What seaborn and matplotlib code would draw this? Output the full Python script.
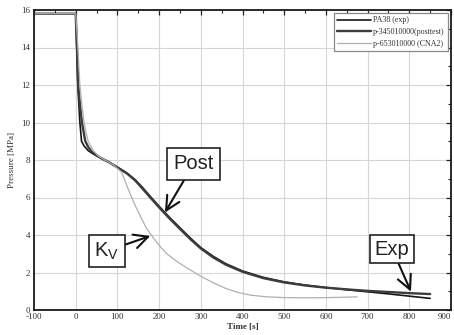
import matplotlib
matplotlib.use("Agg")
import matplotlib.pyplot as plt
from matplotlib.ticker import MultipleLocator
import numpy as np
import pandas as pd
import seaborn as sns

# Measured pressure (PA38 experiment)
exp_t = [-100, 0, 2, 5, 8, 10, 14, 20, 30, 40, 52, 65, 80, 100, 123, 143, 160, 180,
         203, 225, 252, 275, 300, 330, 360, 400, 450, 500, 550, 600, 650, 700, 750, 800, 850]
exp_p = [15.8, 15.8, 14.4, 12.0, 10.8, 10.0, 9.0, 8.75, 8.5, 8.35, 8.2, 8.05, 7.88, 7.62, 7.3,
         6.94, 6.54, 6.03, 5.46, 4.94, 4.34, 3.84, 3.33, 2.86, 2.47, 2.08, 1.74, 1.5, 1.33, 1.2,
         1.08, 0.97, 0.86, 0.74, 0.62]

# Post-test calculation (p-345010000)
post_t = [-100, 0, 3, 6, 10, 15, 23, 30, 38, 52, 65, 80, 100, 123, 143, 160, 180,
          203, 225, 252, 275, 300, 330, 360, 400, 450, 500, 550, 600, 650, 700, 750, 800, 850]
post_p = [15.8, 15.8, 14.0, 12.0, 11.0, 10.0, 9.0, 8.7, 8.45, 8.22, 8.05, 7.88, 7.6, 7.28,
          6.9, 6.48, 5.97, 5.4, 4.88, 4.28, 3.78, 3.28, 2.8, 2.42, 2.04, 1.7, 1.47, 1.31,
          1.19, 1.1, 1.02, 0.96, 0.9, 0.85]

# CNA2 calculation (p-653010000), with modified valve coefficient
cna_t = [-100, 0, 4, 10, 15, 20, 25, 30, 42, 55, 70, 90, 110, 125, 140, 155, 170, 187,
         205, 220, 245, 270, 300, 330, 360, 390, 420, 460, 500, 550, 600, 640, 675]
cna_p = [15.8, 15.8, 14.5, 12.0, 10.9, 10.0, 9.45, 9.0, 8.5, 8.2, 8.0, 7.75, 7.35, 6.5,
         5.7, 5.0, 4.35, 3.82, 3.32, 2.97, 2.55, 2.2, 1.8, 1.45, 1.15, 0.93, 0.79, 0.7, 0.66,
         0.65, 0.66, 0.68, 0.7]

series_names = ["PA38 (exp)", "p-345010000(posttest)", "p-653010000 (CNA2)"]
series_colors = ["#151515", "#3c3c3c", "#b0b0b0"]
series_widths = [1.2, 1.7, 0.9]

x_ticks = [-100, 0, 100, 200, 300, 400, 500, 600, 700, 800, 900]
y_ticks = [0, 2, 4, 6, 8, 10, 12, 14, 16]

frames = []
for name, t, p in zip(series_names, [exp_t, post_t, cna_t], [exp_p, post_p, cna_p]):
    frames.append(pd.DataFrame({"Time": t, "Pressure": p, "Series": name}))
df = pd.concat(frames, ignore_index=True)

sns.set_theme(style="whitegrid")
plt.rcParams["font.family"] = ["Liberation Serif", "DejaVu Serif"]
plt.rcParams["mathtext.default"] = "regular"
plt.rcParams["axes.unicode_minus"] = False

fig = plt.figure(figsize=(4.54, 3.35), dpi=100)
ax = fig.add_axes([34 / 454, 1 - 310 / 335, (451 - 34) / 454, 300 / 335])

for name, col, lw in zip(series_names, series_colors, series_widths):
    sub = df[df["Series"] == name]
    sns.lineplot(data=sub, x="Time", y="Pressure", ax=ax, color=col, linewidth=lw,
                 label=name, sort=False, estimator=None)

ax.set_xlim(-100, 900)
ax.set_ylim(0, 16)
ax.set_xticks(x_ticks)
ax.set_xticklabels([str(v) for v in x_ticks])
ax.set_yticks(y_ticks)
ax.xaxis.set_minor_locator(MultipleLocator(50))
ax.yaxis.set_minor_locator(MultipleLocator(1))
ax.tick_params(which="both", direction="in", top=True, right=True, colors="#222222",
               labelsize=6.5, labelcolor="#333333", pad=2.5)
ax.tick_params(which="major", length=3.5, width=0.9)
ax.tick_params(which="minor", length=2, width=0.8)
ax.grid(True, which="major", color="#d6d6d6", linewidth=0.8)
ax.grid(False, which="minor")
for sp in ax.spines.values():
    sp.set_color("#1a1a1a")
    sp.set_linewidth(1.3)
# keep the last time label inside the figure
ax.get_xticklabels()[-1].set_horizontalalignment("right")

ax.set_xlabel("Time [s]", fontsize=6.5, fontweight="bold", color="#333333", labelpad=1)
ax.set_ylabel("Pressure [MPa]", fontsize=6.5, color="#333333", labelpad=4)

leg = ax.legend(loc="upper right", fontsize=5.8, handlelength=4.2, handletextpad=0.3,
                labelspacing=0.45, borderpad=0.4, borderaxespad=0.4, fancybox=False,
                framealpha=1)
leg.get_frame().set_edgecolor("#888888")
leg.get_frame().set_linewidth(0.9)
for txt in leg.get_texts():
    txt.set_color("#333333")

label_font = ["Liberation Sans", "DejaVu Sans"]
arrow = dict(arrowstyle="->,head_length=0.7,head_width=0.35", color="#111111", lw=1.5,
             shrinkA=0, shrinkB=0)

ax.annotate("Post", xy=(214, 5.2), xytext=(283, 7.8), ha="center", va="center",
            fontsize=14.5, family=label_font, color="#222222",
            bbox=dict(boxstyle="square,pad=0.32", fc="white", ec="#222222", lw=1.2),
            arrowprops=arrow)
ax.annotate(r"K$_{V}$", xy=(179, 3.95), xytext=(75, 3.15), ha="center", va="center",
            fontsize=14.5, family=label_font, color="#222222",
            bbox=dict(boxstyle="square,pad=0.28", fc="white", ec="#222222", lw=1.2),
            arrowprops=arrow)
ax.annotate("Exp", xy=(804, 0.98), xytext=(759, 3.25), ha="center", va="center",
            fontsize=14.5, family=label_font, color="#222222",
            bbox=dict(boxstyle="square,pad=0.22", fc="white", ec="#222222", lw=1.2),
            arrowprops=arrow)

fig.savefig("out.png", dpi=100)
